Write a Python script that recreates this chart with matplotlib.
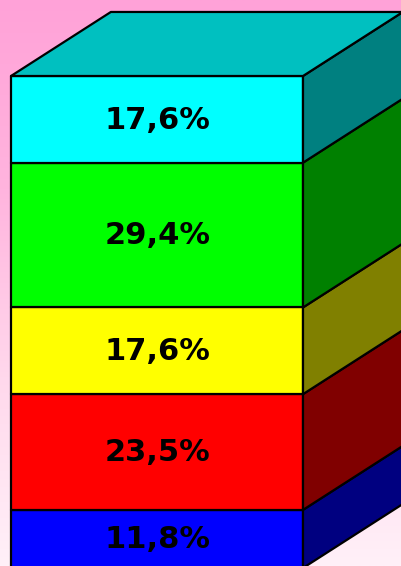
import numpy as np
from matplotlib import pyplot as plt
from matplotlib.patches import Polygon
from matplotlib.colors import LinearSegmentedColormap

# bottom to top
labels = ["11,8%", "23,5%", "17,6%", "29,4%", "17,6%"]
values = [11.8, 23.5, 17.6, 29.4, 17.6]
front_colors = ["#0000ff", "#ff0000", "#ffff00", "#00ff00", "#00ffff"]
side_colors = ["#000080", "#800000", "#808000", "#008000", "#008080"]
top_color = "#00c0c0"

# depth of the fake 3d box, in data units
depth_x = 0.342
depth_y = 13.0

fig = plt.figure(figsize=(4.01, 5.66), dpi=100)
ax = fig.add_axes([0, 0, 1, 1])
ax.set_xlim(-11 / 292, 390 / 292)
ax.set_ylim(2 / 4.925, 568 / 4.925)
ax.axis("off")

bg = LinearSegmentedColormap.from_list("bg", ["#ffa2d8", "#ffb4de", "#ffd8ec", "#fff0f8"])
ax.imshow(np.linspace(0, 1, 256).reshape(-1, 1), cmap=bg, aspect="auto",
          extent=[*ax.get_xlim(), ax.get_ylim()[0], ax.get_ylim()[1]], origin="upper", zorder=0)

line = dict(edgecolor="black", linewidth=1.6, joinstyle="round", zorder=2)

bottom = 0
for label, value, fc, sc in zip(labels, values, front_colors, side_colors):
    top = bottom + value
    ax.add_patch(Polygon([(0, bottom), (1, bottom), (1, top), (0, top)], facecolor=fc, **line))
    ax.add_patch(Polygon([(1, bottom), (1 + depth_x, bottom + depth_y), (1 + depth_x, top + depth_y), (1, top)],
                         facecolor=sc, **line))
    ax.annotate(label, (0.5, bottom + value / 2), xytext=(0.5, -0.5), textcoords="offset points",
                ha="center", va="center", color="black",
                family="DejaVu Sans", fontweight="bold", fontsize=22, zorder=3)
    bottom = top

ax.add_patch(Polygon([(0, bottom), (1, bottom), (1 + depth_x, bottom + depth_y), (depth_x, bottom + depth_y)],
                     facecolor=top_color, **line))

fig.savefig("out.png", dpi=100)
